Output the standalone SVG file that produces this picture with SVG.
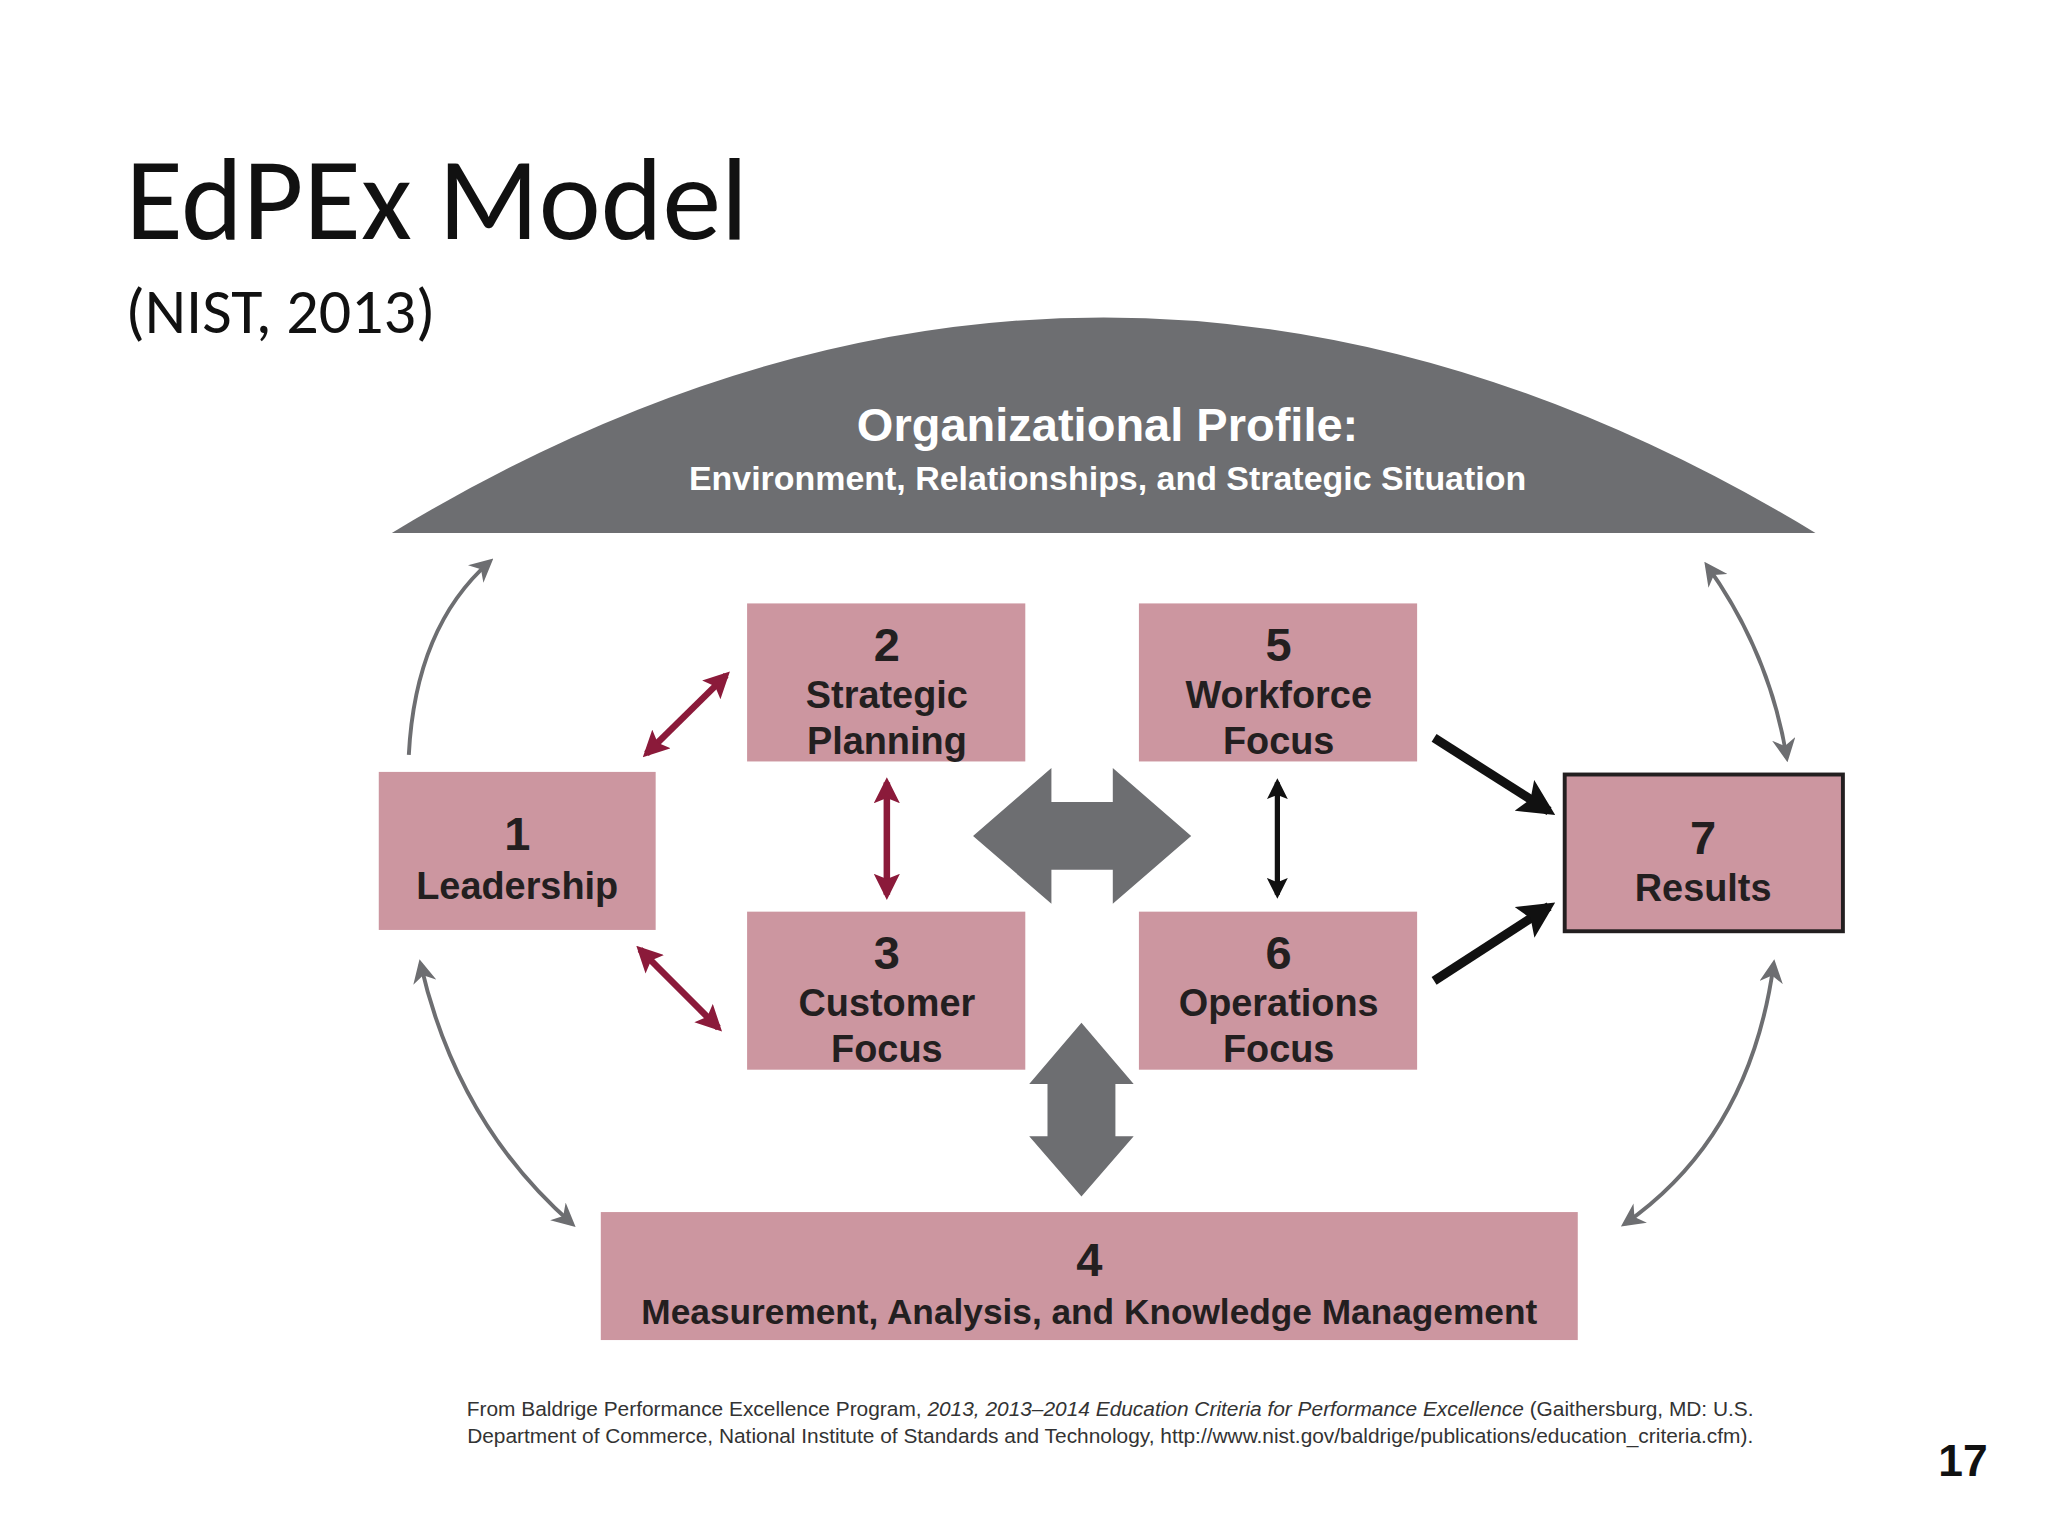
<svg xmlns="http://www.w3.org/2000/svg" width="2048" height="1536" viewBox="0 0 2048 1536">
<style>
.box{fill:#cc96a0}
.num{font-family:"Liberation Sans",sans-serif;font-weight:bold;font-size:36px;fill:#231f20;text-anchor:middle}
.lbl{font-family:"Liberation Sans",sans-serif;font-weight:bold;font-size:29px;fill:#231f20;text-anchor:middle}
.g{fill:none;stroke:#6d6e71;stroke-width:3}
.m{fill:none;stroke:#8b1a3a;stroke-width:5}
.k{fill:none;stroke:#111;stroke-width:7}
.foot{font-family:"Liberation Sans",sans-serif;font-size:16px;fill:#333;text-anchor:middle}
</style>
<defs>
<marker id="ag" viewBox="0 0 10 10" refX="8" refY="5" markerWidth="6" markerHeight="6" orient="auto-start-reverse"><path d="M0,0L10,5L0,10L3,5z" fill="#6d6e71"/></marker>
<marker id="am" viewBox="0 0 10 10" refX="8" refY="5" markerWidth="4" markerHeight="4" orient="auto-start-reverse"><path d="M0,0L10,5L0,10L2,5z" fill="#8b1a3a"/></marker>
<marker id="ak" viewBox="0 0 10 10" refX="8" refY="5" markerWidth="4" markerHeight="4" orient="auto-start-reverse"><path d="M0,0L10,5L0,10L2,5z" fill="#111"/></marker>
</defs>
<rect width="2048" height="1536" fill="#fff"/>
<g transform="scale(1.3061)">
<text x="96" y="183" font-family="Calibri,'Carlito','Liberation Sans',sans-serif" font-size="90" fill="#111">EdPEx Model</text>
<text x="96" y="255" font-family="Calibri,'Carlito','Liberation Sans',sans-serif" font-size="49" fill="#111">(NIST, 2013)</text>
<g id="profile">
<path d="M300,408 Q845,78 1390,408 Z" fill="#6d6e71"/>
<text x="848" y="338" font-family="'Liberation Sans',sans-serif" font-weight="bold" font-size="36" fill="#fff" text-anchor="middle">Organizational Profile:</text>
<text x="848" y="375" font-family="'Liberation Sans',sans-serif" font-weight="bold" font-size="26" fill="#fff" text-anchor="middle">Environment, Relationships, and Strategic Situation</text>
</g>
<g id="connectors">
<path class="g" d="M313,578 Q318,480 375,430" marker-end="url(#ag)"/>
<path class="g" d="M1307,433 Q1355,500 1368,580" marker-start="url(#ag)" marker-end="url(#ag)"/>
<path class="g" d="M322,738 Q350,860 438,937" marker-start="url(#ag)" marker-end="url(#ag)"/>
<path class="g" d="M1244,937 Q1340,870 1358,738" marker-start="url(#ag)" marker-end="url(#ag)"/>
<path class="m" d="M495,577L556,517" marker-start="url(#am)" marker-end="url(#am)"/>
<path class="m" d="M490,727L550,787" marker-start="url(#am)" marker-end="url(#am)"/>
<path class="m" d="M679,599L679,685" marker-start="url(#am)" marker-end="url(#am)"/>
<path class="k" style="stroke-width:4" d="M978,599L978,685" marker-start="url(#ak)" marker-end="url(#ak)"/>
<path class="k" d="M1098,565L1186,621" marker-end="url(#ak)"/>
<path class="k" d="M1098,751L1186,694" marker-end="url(#ak)"/>
<polygon fill="#6d6e71" points="745,640 805,588 805,614 852,614 852,588 912,640 852,692 852,666 805,666 805,692"/>
<polygon fill="#6d6e71" points="828,783 868,830 854,830 854,870 868,870 828,916 788,870 802,870 802,830 788,830"/>
</g>
<g id="n1"><rect class="box" x="290" y="591" width="212" height="121"/><text class="num" x="396" y="651">1</text><text class="lbl" x="396" y="688">Leadership</text></g>
<g id="n2"><rect class="box" x="572" y="462" width="213" height="121"/><text class="num" x="679" y="506">2</text><text class="lbl" x="679" y="542">Strategic</text><text class="lbl" x="679" y="577">Planning</text></g>
<g id="n5"><rect class="box" x="872" y="462" width="213" height="121"/><text class="num" x="979" y="506">5</text><text class="lbl" x="979" y="542">Workforce</text><text class="lbl" x="979" y="577">Focus</text></g>
<g id="n3"><rect class="box" x="572" y="698" width="213" height="121"/><text class="num" x="679" y="742">3</text><text class="lbl" x="679" y="778">Customer</text><text class="lbl" x="679" y="813">Focus</text></g>
<g id="n6"><rect class="box" x="872" y="698" width="213" height="121"/><text class="num" x="979" y="742">6</text><text class="lbl" x="979" y="778">Operations</text><text class="lbl" x="979" y="813">Focus</text></g>
<g id="n7"><rect class="box" x="1198" y="593" width="213" height="120" stroke="#231f20" stroke-width="3"/><text class="num" x="1304" y="654">7</text><text class="lbl" x="1304" y="690">Results</text></g>
<g id="n4"><rect class="box" x="460" y="928" width="748" height="98"/><text class="num" x="834" y="977">4</text><text class="lbl" x="834" y="1014" style="font-size:27px">Measurement, Analysis, and Knowledge Management</text></g>
<text class="foot" x="850" y="1084">From Baldrige Performance Excellence Program, <tspan font-style="italic">2013, 2013–2014 Education Criteria for Performance Excellence</tspan> (Gaithersburg, MD: U.S.</text>
<text class="foot" x="850" y="1105">Department of Commerce, National Institute of Standards and Technology, http://www.nist.gov/baldrige/publications/education_criteria.cfm).</text>
<text x="1503" y="1130" font-family="'Liberation Sans',sans-serif" font-weight="bold" font-size="34" fill="#111" text-anchor="middle">17</text>
</g>
</svg>
